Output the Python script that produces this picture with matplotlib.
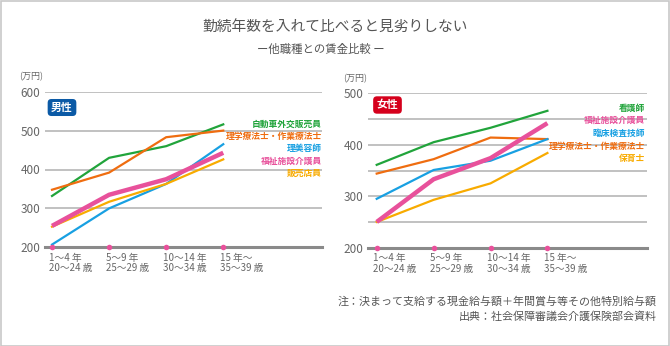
import matplotlib
matplotlib.use("Agg")
import matplotlib.pyplot as plt
from matplotlib.patches import Rectangle

plt.rcParams['font.family'] = ['Noto Sans CJK JP', 'DejaVu Sans']

# ---- data ----
periods = ["1～4 年\n20～24 歳", "5～9 年\n25～29 歳", "10～14 年\n30～34 歳", "15 年～\n35～39 歳"]

male_names = ["自動車外交販売員", "理学療法士・作業療法士", "理美容師", "福祉施設介護員", "販売店員"]
male_auto = [332, 430, 460, 516]
male_pt = [348, 392, 483, 500]
male_beauty = [207, 300, 363, 465]
male_care = [255, 335, 375, 443]
male_sales = [253, 317, 363, 426]

female_names = ["看護師", "福祉施設介護員", "臨床検査技師", "理学療法士・作業療法士", "保育士"]
female_nurse = [361, 405, 433, 466]
female_care = [250, 333, 374, 442]
female_lab = [295, 351, 369, 411]
female_pt = [344, 372, 414, 411]
female_nursery = [250, 293, 325, 384]

GREEN = '#21a43b'
ORANGE = '#ef6d10'
BLUE = '#18a0e2'
PINK = '#e8519b'
YELLOW = '#f8ab00'
TXT = '#555555'

W, H = 670, 346
fig = plt.figure(figsize=(W / 100, H / 100), dpi=100)
fig.patch.set_facecolor('white')
fig.add_artist(Rectangle((0.5 / W, 0.5 / H), 1 - 1.5 / W, 1 - 1.5 / H,
                         transform=fig.transFigure, fill=False,
                         ec='#c8c8c8', lw=1.2))


def px_axes(x0, x1, ytop, ybot):
    return fig.add_axes([x0 / W, 1 - ybot / H, (x1 - x0) / W, (ybot - ytop) / H])


def style_axes(ax, ymin, ymax, grid, ticks, xlim):
    ax.set_xlim(*xlim)
    ax.set_ylim(ymin, ymax)
    for s in ax.spines.values():
        s.set_visible(False)
    for g in grid:
        ax.axhline(g, color='#b0b0b0', lw=1.1, zorder=1)
    ax.axhline(ymin, color='#8a8a8a', lw=2.2, zorder=1, clip_on=False)
    ax.set_xticks([])
    ax.set_yticks(ticks)
    ax.set_yticklabels([str(t) for t in ticks])
    ax.tick_params(axis='y', length=0, pad=3.5, labelsize=8.5, labelcolor='#666666')
    ax.patch.set_alpha(0)
    xs = range(len(periods))
    ax.scatter(xs, [ymin] * len(periods), s=16, color=PINK, zorder=5, clip_on=False,
               linewidths=0)
    for i, lab in enumerate(periods):
        ax.annotate(lab, (i, ymin), xytext=(-2.5, -4), textcoords='offset points',
                    ha='left', va='top', fontsize=7, color='#666666', linespacing=1.05,
                    annotation_clip=False)


# ---- male panel ----
axm = px_axes(45, 322, 91.7, 247.3)
style_axes(axm, 200, 600, [300, 400, 500, 600], [200, 300, 400, 500, 600],
           (-0.123, 4.73))
x = range(len(periods))
axm.plot(x, male_auto, color=GREEN, lw=1.6, zorder=3)
axm.plot(x, male_pt, color=ORANGE, lw=1.6, zorder=3)
axm.plot(x, male_beauty, color=BLUE, lw=1.6, zorder=3)
axm.plot(x, male_sales, color=YELLOW, lw=1.6, zorder=3)
axm.plot(x, male_care, color=PINK, lw=3.2, zorder=4, solid_capstyle='butt')

male_colors = [GREEN, ORANGE, BLUE, PINK, YELLOW]
male_label_y = [124, 136, 148.5, 161, 173.5]
for name, c, yy in zip(male_names, male_colors, male_label_y):
    fig.text(322 / W, 1 - yy / H, name, ha='right', va='center', fontsize=6.3,
             color=c, fontweight='bold')

# ---- female panel ----
axf = px_axes(368, 647, 93.3, 247.7)
style_axes(axf, 200, 500, [250, 300, 350, 400, 450, 500], [200, 300, 400, 500],
           (-0.153, 4.75))
axf.plot(x, female_nurse, color=GREEN, lw=1.6, zorder=3)
axf.plot(x, female_pt, color=ORANGE, lw=1.6, zorder=3)
axf.plot(x, female_lab, color=BLUE, lw=1.6, zorder=3)
axf.plot(x, female_nursery, color=YELLOW, lw=1.6, zorder=3)
axf.plot(x, female_care, color=PINK, lw=3.2, zorder=4, solid_capstyle='butt')

female_colors = [GREEN, PINK, BLUE, ORANGE, YELLOW]
female_label_y = [108, 120.5, 133, 146, 158.5]
for name, c, yy in zip(female_names, female_colors, female_label_y):
    fig.text(645 / W, 1 - yy / H, name, ha='right', va='center', fontsize=6.3,
             color=c, fontweight='bold')

# ---- unit labels ----
fig.text(19 / W, 1 - 77 / H, "(万円)", ha='left', va='center', fontsize=6.5, color='#666666')
fig.text(343 / W, 1 - 79 / H, "(万円)", ha='left', va='center', fontsize=6.5, color='#666666')

# ---- badges ----
fig.text(62 / W, 1 - 107.5 / H, "男性", ha='center', va='center', fontsize=7.8,
         color='white', fontweight='bold',
         bbox=dict(boxstyle='round,pad=0.32,rounding_size=0.35', fc='#0b5aa6', ec='none'))
fig.text(387.5 / W, 1 - 105 / H, "女性", ha='center', va='center', fontsize=7.8,
         color='white', fontweight='bold',
         bbox=dict(boxstyle='round,pad=0.32,rounding_size=0.35', fc='#d5001c', ec='none'))

# ---- titles ----
fig.text(0.5, 1 - 27 / H, "勤続年数を入れて比べると見劣りしない", ha='center', va='center',
         fontsize=10.6, color=TXT)
fig.text(321 / W, 1 - 49.5 / H, "ー他職種との賃金比較 ー", ha='center', va='center',
         fontsize=8.2, color=TXT)

# ---- notes ----
fig.text(657 / W, 1 - 301 / H, "注：決まって支給する現金給与額＋年間賞与等その他特別給与額",
         ha='right', va='center', fontsize=7.9, color=TXT)
fig.text(657 / W, 1 - 317 / H, "出典：社会保障審議会介護保険部会資料",
         ha='right', va='center', fontsize=7.9, color=TXT)

fig.savefig("out.png", dpi=100, facecolor='white')
